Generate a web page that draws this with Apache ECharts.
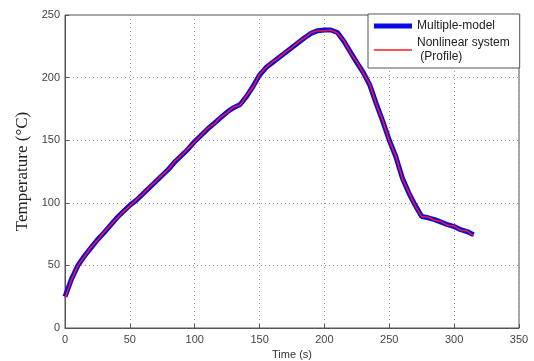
<!DOCTYPE html>
<html>
<head>
<meta charset="utf-8">
<script src="https://cdn.jsdelivr.net/npm/echarts@6/dist/echarts.min.js"></script>
<style>
  html, body { margin: 0; padding: 0; background: #fff; }
  #chart { width: 534px; height: 361px; }
</style>
</head>
<body>
<div id="chart"></div>
<script>
// Time samples (s)
const timeS = [
  0, 5, 10, 15, 20, 25, 30, 35, 40, 45,
  50, 55, 60, 65, 70, 75, 80, 85, 90, 95,
  100, 105, 110, 115, 120, 125, 130, 135, 140, 145,
  150, 155, 160, 165, 170, 175, 180, 185, 190, 195,
  200, 205, 210, 215, 220, 225, 230, 235, 240, 245,
  250, 255, 260, 265, 270, 275, 280, 285, 290, 295,
  300, 305, 310, 315
];

// Multiple-model temperature estimate (°C)
const multipleModel = [
  25, 39, 50, 57.5, 64, 70.5, 76, 82, 88, 93,
  98, 102, 107, 112, 117, 122, 127, 133, 138, 143,
  149, 154, 159, 163.5, 168, 172.5, 176, 178.5, 185, 193,
  202, 208, 212, 216, 220, 224, 228, 232, 235.5, 237.5,
  238, 238, 236, 229, 220.5, 212, 204, 194, 179, 165,
  150, 137, 120, 108, 98, 89, 88, 86.5, 84.5, 82.5,
  81, 78.5, 77, 74.5
];

// Nonlinear system profile temperature (°C)
const nonlinearProfile = [
  24, 38.5, 50, 57, 64.5, 70, 76.5, 82, 87.5, 93,
  97.5, 102.5, 107, 112.5, 117, 122.5, 127, 133.5, 138, 143.5,
  148.5, 154, 159.5, 163, 168.5, 172, 176.5, 178, 185.5, 192.5,
  202.5, 208, 212.5, 216, 220.5, 224, 228.5, 232, 236, 237.5,
  237.5, 238, 235.5, 229.5, 220, 212.5, 203.5, 194.5, 178.5, 165.5,
  149.5, 137.5, 119.5, 108.5, 97.5, 89, 88.5, 86, 85, 82,
  81.5, 78, 77.5, 73.5
];

// Axis ticks
const xTicks = { min: 0, max: 350, step: 50 };
const yTicks = { min: 0, max: 250, step: 50 };

const chart = echarts.init(document.getElementById('chart'), null, { renderer: 'canvas' });

const axisColor = '#555';
const blue = '#0a0ae6';
const red = '#ff1a1a';
const sansFont = 'Liberation Sans, Arial, sans-serif';
const labelFont = { color: '#444', fontSize: 11, fontFamily: sansFont };
const gridLine = { show: true, lineStyle: { color: '#9a9a9a', type: [1, 3], width: 1 } };

const pairs = (vals) => timeS.map((t, i) => [t, vals[i]]);

chart.setOption({
  backgroundColor: '#fff',
  animation: false,
  grid: {
    left: 65, right: 15, top: 15, bottom: 33,
    outerBoundsMode: 'none',
    containLabel: false,
    show: true, borderColor: axisColor, borderWidth: 1
  },
  legend: {
    orient: 'vertical',
    left: 368, top: 14,
    padding: [5, 10, 4, 6],
    itemWidth: 38, itemHeight: 10, itemGap: 3,
    backgroundColor: '#fff',
    borderColor: axisColor, borderWidth: 1,
    textStyle: { color: '#222', fontSize: 12, fontFamily: sansFont, lineHeight: 14 },
    data: [
      { name: 'Multiple-model', icon: 'path://M0,0H38V5H0Z' },
      { name: 'Nonlinear system\n (Profile)', icon: 'path://M0,0H38V1.5H0Z' }
    ]
  },
  xAxis: {
    type: 'value',
    min: xTicks.min, max: xTicks.max, interval: xTicks.step,
    name: 'Time (s)', nameLocation: 'middle', nameGap: 19,
    nameTextStyle: { color: '#333', fontSize: 11, fontFamily: sansFont },
    axisLine: { show: true, lineStyle: { color: axisColor } },
    axisTick: { show: true, inside: true, length: 4, lineStyle: { color: axisColor } },
    axisLabel: Object.assign({ margin: 6 }, labelFont),
    splitLine: gridLine
  },
  yAxis: {
    type: 'value',
    min: yTicks.min, max: yTicks.max, interval: yTicks.step,
    name: 'Temperature (°C)', nameLocation: 'middle', nameGap: 34,
    nameTextStyle: { color: '#222', fontSize: 17, fontFamily: 'Liberation Serif, Times New Roman, serif' },
    axisLine: { show: true, lineStyle: { color: axisColor } },
    axisTick: { show: true, inside: true, length: 4, lineStyle: { color: axisColor } },
    axisLabel: Object.assign({ margin: 5 }, labelFont),
    splitLine: gridLine
  },
  series: [
    {
      name: 'Multiple-model',
      type: 'line',
      data: pairs(multipleModel),
      symbol: 'none',
      lineStyle: { color: blue, width: 5 },
      itemStyle: { color: blue },
      z: 2
    },
    {
      name: 'Nonlinear system\n (Profile)',
      type: 'line',
      data: pairs(nonlinearProfile),
      symbol: 'none',
      lineStyle: { color: red, width: 1.5 },
      itemStyle: { color: red },
      z: 3
    }
  ]
});
</script>
</body>
</html>
